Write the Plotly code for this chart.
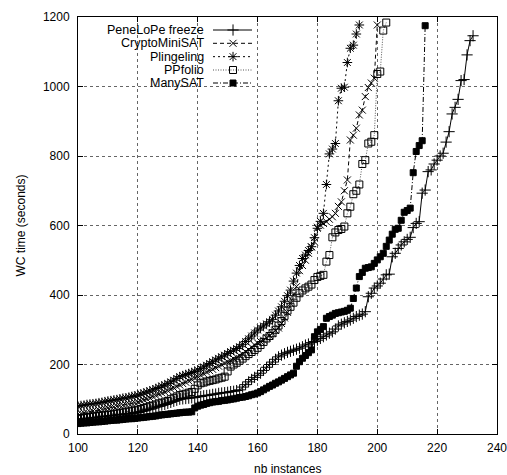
import plotly.graph_objects as go

# ---------------- data ----------------
x_start = 99

penelope = [41, 42, 43, 44, 45, 46, 47, 48, 49, 50, 51, 52, 53, 54, 55, 56, 57, 58, 59, 60,
            62, 63, 65, 67, 70, 72, 75, 78, 80, 83, 85, 88, 91, 94, 97, 100, 101, 102, 103, 104,
            105, 107, 108, 110, 111, 112, 114, 115, 117, 118, 119, 120, 122, 123, 125, 127, 135, 142, 150, 157,
            163, 169, 175, 183, 192, 200, 207, 215, 222, 227, 231, 235, 238, 241, 244, 247, 251, 256, 259, 263,
            266, 270, 275, 280, 285, 290, 294, 302, 311, 316, 320, 324, 328, 333, 338, 342, 345, 352, 395, 405,
            420, 426, 434, 446, 458, 460, 510, 520, 534, 544, 553, 560, 566, 594, 606, 611, 693, 702, 755, 760,
            777, 788, 800, 808, 840, 870, 921, 940, 963, 1017, 1020, 1091, 1132, 1146]

cryptominisat = [56, 58, 59, 61, 62, 64, 66, 67, 69, 71, 73, 75, 77, 78, 80, 82, 83, 85, 87, 88,
                 90, 92, 95, 98, 101, 104, 108, 111, 115, 118, 121, 125, 129, 133, 137, 141, 145, 149, 153, 157,
                 161, 165, 169, 173, 178, 182, 186, 191, 195, 199, 204, 208, 212, 217, 221, 226, 230, 237, 243, 250,
                 256, 262, 266, 270, 277, 283, 290, 298, 305, 318, 334, 350, 375, 400, 424, 470, 485, 500, 520, 538,
                 553, 595, 601, 606, 611, 618, 625, 635, 655, 668, 700, 731, 846, 860, 880, 918, 932, 971, 997, 1010,
                 1024, 1177]

plingeling = [78, 80, 82, 83, 85, 86, 87, 88, 90, 91, 93, 95, 96, 98, 99, 101, 103, 104, 106, 108,
              110, 112, 115, 118, 121, 124, 127, 131, 134, 138, 141, 145, 150, 155, 160, 165, 168, 171, 174, 177,
              180, 184, 188, 193, 198, 203, 208, 213, 218, 222, 227, 232, 237, 241, 246, 251, 258, 266, 274, 282,
              291, 299, 305, 311, 317, 323, 330, 342, 354, 366, 382, 398, 414, 440, 463, 485, 505, 515, 528, 539,
              565, 592, 612, 635, 718, 806, 820, 836, 959, 995, 998, 1069, 1110, 1119, 1151, 1177]

ppfolio = [44, 45, 46, 47, 48, 49, 50, 51, 52, 53, 54, 55, 56, 58, 59, 61, 62, 64, 65, 67,
           68, 70, 72, 75, 77, 80, 82, 85, 88, 90, 93, 95, 100, 104, 108, 112, 114, 116, 119, 121,
           130, 140, 146, 148, 151, 153, 155, 157, 160, 162, 165, 180, 194, 200, 205, 211, 217, 224, 230, 236,
           242, 248, 256, 265, 275, 282, 290, 300, 312, 325, 340, 355, 366, 378, 392, 405, 413, 419, 424, 430,
           443, 452, 455, 458, 496, 515, 566, 580, 587, 590, 597, 635, 654, 690, 700, 718, 777, 788, 836, 841,
           860, 1036, 1043, 1161, 1184]

manysat = [29, 30, 31, 32, 32, 33, 34, 35, 35, 36, 37, 38, 39, 40, 40, 41, 42, 43, 44, 44,
           45, 46, 47, 48, 49, 50, 51, 52, 54, 55, 56, 57, 58, 59, 60, 61, 62, 63, 63, 64,
           75, 80, 83, 85, 88, 90, 92, 93, 94, 96, 97, 98, 100, 101, 103, 105, 106, 108, 110, 113,
           115, 118, 122, 127, 132, 137, 141, 146, 150, 155, 160, 165, 170, 175, 195, 208, 218, 226, 234, 242,
           280, 294, 301, 309, 333, 338, 342, 347, 349, 351, 353, 356, 362, 390, 420, 453, 465, 477, 479, 481,
           491, 501, 510, 520, 540, 558, 575, 589, 592, 615, 638, 643, 650, 752, 813, 830, 844, 1175]

series_names = ["PeneLoPe freeze", "CryptoMiniSAT", "Plingeling", "PPfolio", "ManySAT"]
series_values = [penelope, cryptominisat, plingeling, ppfolio, manysat]

x_ticks = [100, 120, 140, 160, 180, 200, 220, 240]
y_ticks = [0, 200, 400, 600, 800, 1000, 1200]
x_title = "nb instances"
y_title = "WC time (seconds)"

# ---------------- styles ----------------
styles = [
    dict(dash="solid", color="black", symbol="cross-thin", size=8),
    dict(dash="4px,3px", color="black", symbol="x-thin", size=7),
    dict(dash="2px,3px", color="black", symbol="asterisk", size=8),
    dict(dash="1px,1.5px", color="#555555", symbol="square-open", size=7),
    dict(dash="5px,2px,1px,2px", color="black", symbol="square", size=6),
]

FONT = "Liberation Sans, Arial, Helvetica, sans-serif"

fig = go.Figure()

for name, vals, st in zip(series_names, series_values, styles):
    xs = list(range(x_start, x_start + len(vals)))
    fig.add_trace(go.Scatter(
        x=xs, y=vals, mode="lines+markers", name=name, showlegend=False,
        line=dict(color=st["color"], width=1, dash=st["dash"]),
        marker=dict(symbol=st["symbol"], size=st["size"], color="black",
                    line=dict(color="black", width=1)),
    ))

# ---------------- custom gnuplot-style key (text left, sample right) ----------------
key_text_x = 0.3055
key_line_x0, key_line_xm, key_line_x1 = 0.3222, 0.370, 0.4153
key_rows_y = [0.9688, 0.9369, 0.9049, 0.8729, 0.8417]

for name, st, ky in zip(series_names, styles, key_rows_y):
    fig.add_trace(go.Scatter(
        x=[key_line_x0, key_line_xm, key_line_x1], y=[ky, ky, ky],
        xaxis="x2", yaxis="y2", mode="lines+markers", showlegend=False, hoverinfo="skip",
        line=dict(color=st["color"], width=1, dash=st["dash"]),
        marker=dict(symbol=st["symbol"], size=st["size"], color="black",
                    line=dict(color="black", width=1), opacity=[0, 1, 0]),
    ))
    fig.add_annotation(x=key_text_x, y=ky, xref="paper", yref="paper",
                       text=name, showarrow=False, xanchor="right", yanchor="middle",
                       font=dict(family=FONT, size=12.5, color="black"))

fig.add_shape(type="rect", xref="paper", yref="paper", x0=0.002, x1=0.439, y0=0.832, y1=0.998,
              fillcolor="white", line=dict(width=0), layer="between")

# axis titles
fig.add_annotation(x=0.5, y=-0.084, xref="paper", yref="paper", text=x_title,
                   showarrow=False, xanchor="center", yanchor="middle",
                   font=dict(family=FONT, size=12, color="black"))
fig.add_annotation(x=-0.1384, y=0.5, xref="paper", yref="paper", text=y_title,
                   showarrow=False, xanchor="center", yanchor="middle", textangle=-90,
                   font=dict(family=FONT, size=12, color="black"))

# last x tick label (sits on the page edge, partially cut like in the reference)
fig.add_annotation(x=x_ticks[-1], y=-0.0336, xref="x", yref="paper", text=str(x_ticks[-1]),
                   showarrow=False, xanchor="center", yanchor="middle",
                   font=dict(family=FONT, size=12, color="black"))

axis_common = dict(
    showline=True, linecolor="black", linewidth=1, mirror="ticks",
    ticks="inside", ticklen=5, tickcolor="black", tickwidth=1,
    showgrid=True, gridcolor="#666666", griddash="dot", gridwidth=1,
    zeroline=False, tickfont=dict(family=FONT, size=12, color="black"),
    automargin=False,
)

fig.update_layout(
    width=507, height=475,
    margin=dict(l=78, r=10, t=17, b=41, autoexpand=False),
    paper_bgcolor="white", plot_bgcolor="white",
    font=dict(family=FONT, size=12, color="black"),
    xaxis=dict(range=[100, 240], tickvals=x_ticks,
               ticktext=[str(v) for v in x_ticks[:-1]] + [""],
               ticklabelstandoff=3, **axis_common),
    yaxis=dict(range=[0, 1200], tickvals=y_ticks, ticktext=[str(v) for v in y_ticks],
               ticklabelstandoff=5, **axis_common),
    xaxis2=dict(overlaying="x", range=[0, 1], visible=False, anchor="y2"),
    yaxis2=dict(overlaying="y", range=[0, 1], visible=False, anchor="x2"),
    showlegend=False,
)

fig.write_html("out.html")
